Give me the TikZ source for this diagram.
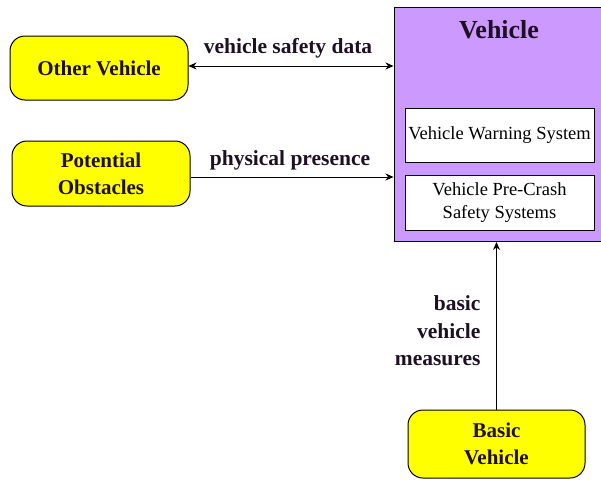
\documentclass[tikz,border=0pt]{standalone}
\usepackage{fontspec}
\setmainfont{Liberation Serif}
\usetikzlibrary{arrows.meta}
\definecolor{ybox}{RGB}{255,255,0}
\definecolor{pbox}{RGB}{204,153,255}
\definecolor{tdark}{RGB}{30,15,35}
\tikzset{
  ext/.style={draw=black, line width=1pt, fill=ybox, rounded corners=15pt, align=center, font=\fontsize{21}{27}\selectfont\bfseries, text=tdark},
  sub/.style={draw=black, line width=1pt, fill=white, align=center, font=\fontsize{18.5}{23}\selectfont},
  flow/.style={line width=0.9pt, -{Stealth[length=8pt,width=7pt]}},
  lab/.style={font=\fontsize{21.5}{27}\selectfont\bfseries, text=tdark}
}
\begin{document}
\begin{tikzpicture}[x=1pt,y=-1pt]
\useasboundingbox (0,0) rectangle (601,479);
% Vehicle container
\node[draw=black, line width=1pt, fill=pbox, minimum width=207pt, minimum height=234pt, anchor=north west, inner sep=0pt] (veh) at (393.5,7) {};
\node[font=\fontsize{26}{30}\selectfont\bfseries, text=tdark] (vtitle) at (499,30) {Vehicle};
\node[sub, minimum width=189pt, minimum height=54pt, inner sep=0pt] (warn) at (499.5,135) {Vehicle Warning System};
\node[sub, minimum width=189pt, minimum height=55pt, inner sep=0pt] (pre) at (499.5,202.5) {Vehicle Pre-Crash\\Safety Systems};
% external entities
\node[ext, minimum width=178pt, minimum height=64pt] (other) at (99,68) {Other Vehicle};
\node[ext, minimum width=178pt, minimum height=65pt] (obst) at (101,173.5) {Potential\\Obstacles};
\node[ext, minimum width=177pt, minimum height=68pt] (basic) at (496.5,444) {Basic\\Vehicle};
% connectors
\coordinate (vin1) at (veh.west |- 0,66);
\coordinate (vin2) at (veh.west |- 0,177);
\draw[flow, {Stealth[length=8pt,width=7pt]}-{Stealth[length=8pt,width=7pt]}] (other.east |- vin1) -- (vin1);
\draw[flow] (obst.east |- vin2) -- (vin2);
\draw[flow] (basic.north) -- (basic.north |- veh.south);
% labels
\node[lab] (l1) at (288,48) {vehicle safety data};
\node[lab] (l2) at (290,160) {physical presence};
\node[lab, align=right, anchor=east, font=\fontsize{21.5}{27.5}\selectfont\bfseries] (l3) at (484,331) {basic\\vehicle\\measures};
\end{tikzpicture}
\end{document}
